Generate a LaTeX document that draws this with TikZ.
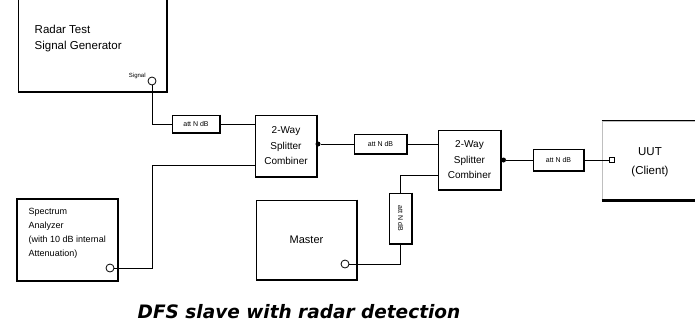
\documentclass[tikz,border=0pt]{standalone}
\usepackage{fontspec}
\setmainfont{Liberation Sans}
\newfontfamily\titlefont{DejaVu Sans}

\begin{document}
\begin{tikzpicture}[x=1pt,y=-1pt,line width=0.8pt,
 box/.style={draw,inner sep=0pt,align=center},
 att/.style={draw,inner sep=0pt,font=\fontsize{7}{8}\selectfont},
 port/.style={circle,draw,fill=white,inner sep=0pt,minimum size=8pt},
 dot/.style={circle,fill=black,inner sep=0pt,minimum size=5pt}]
\clip (0,0) rectangle (695,327);
\fill[white] (0,0) rectangle (695,327);

% radar test signal generator
\node[box,minimum width=149pt,minimum height=100pt] (gen) at (92.5,42) {};
\node[anchor=north west,align=left,font=\fontsize{11.5}{16}\selectfont] (gentxt) at (31,21) {Radar Test\\Signal Generator};
\node[anchor=east,font=\fontsize{6}{7}\selectfont,inner sep=1pt] (sig) at (147,76) {Signal};
\node[port] (genport) at (152,81) {};

% spectrum analyzer
\node[box,line width=1.2pt,minimum width=101pt,minimum height=82pt] (spa) at (67.5,240) {};
\node[anchor=north west,align=left,font=\fontsize{9}{14}\selectfont] (spatxt) at (25,204) {Spectrum\\Analyzer\\(with 10 dB internal\\Attenuation)};
\node[port] (spaport) at (110,268) {};

% splitters
\node[box,minimum width=62pt,minimum height=62pt,font=\fontsize{10}{15.5}\selectfont] (spl1) at (286,146) {2-Way\\Splitter\\Combiner};
\node[dot] (dot1) at (318,144) {};
\node[box,minimum width=63pt,minimum height=60pt,font=\fontsize{10}{15.5}\selectfont] (spl2) at (469.5,160) {2-Way\\Splitter\\Combiner};
\node[dot] (dot2) at (503.5,160) {};

% attenuators
\node[att,minimum width=48pt,minimum height=18pt] (att1) at (196,124) {att N dB};
\node[att,minimum width=53pt,minimum height=20pt] (att2) at (380.5,144) {att N dB};
\node[att,minimum width=51pt,minimum height=22pt] (att3) at (558.5,160) {att N dB};
\node[att,minimum width=23pt,minimum height=51pt] (att4) at (400.5,218.5) {\rotatebox{-90}{att N dB}};

% master
\node[box,minimum width=101pt,minimum height=80pt,font=\fontsize{11}{13}\selectfont] (mst) at (306.5,240) {Master};
\node[port] (mport) at (345,264) {};

% UUT
\node[box,draw=black!25,minimum width=118pt,minimum height=79pt] (uut) at (661,160.5) {};
\node[align=center,font=\fontsize{11.5}{19}\selectfont] (uuttxt) at (650,162) {UUT\\(Client)};
\node[draw,fill=white,inner sep=0pt,minimum size=5pt] (uutport) at (612,160) {};
\draw (uut.north west) -- (uut.north east);
\draw[line width=2.2pt] (uut.south west) -- (uut.south east);

% shadow edges
\foreach \n in {gen,spl1,spl2,mst,att1,att2,att3,att4}
  \draw[line width=2pt] (\n.north east) -- (\n.south east) -- (\n.south west);

% connections
\coordinate (c1) at (152,165);
\coordinate (c2) at (400.5,175);
\draw (genport.south) |- (att1.west);
\draw (att1.east) -- (att1.east -| spl1.west);
\draw (spaport.east) -| (c1) -- (c1 -| spl1.west);
\draw (dot1) -- (att2.west);
\draw (att2.east) -- (att2.east -| spl2.west);
\draw (dot2) -- (att3.west);
\draw (att3.east) -- (uutport.west);
\draw (c2 -| spl2.west) -- (c2) -- (att4.north);
\draw (att4.south) |- (mport.east);

% caption
\node[font=\titlefont\bfseries\itshape\fontsize{18.5}{20}\selectfont] (title) at (299,312) {DFS slave with radar detection};
\end{tikzpicture}
\end{document}
